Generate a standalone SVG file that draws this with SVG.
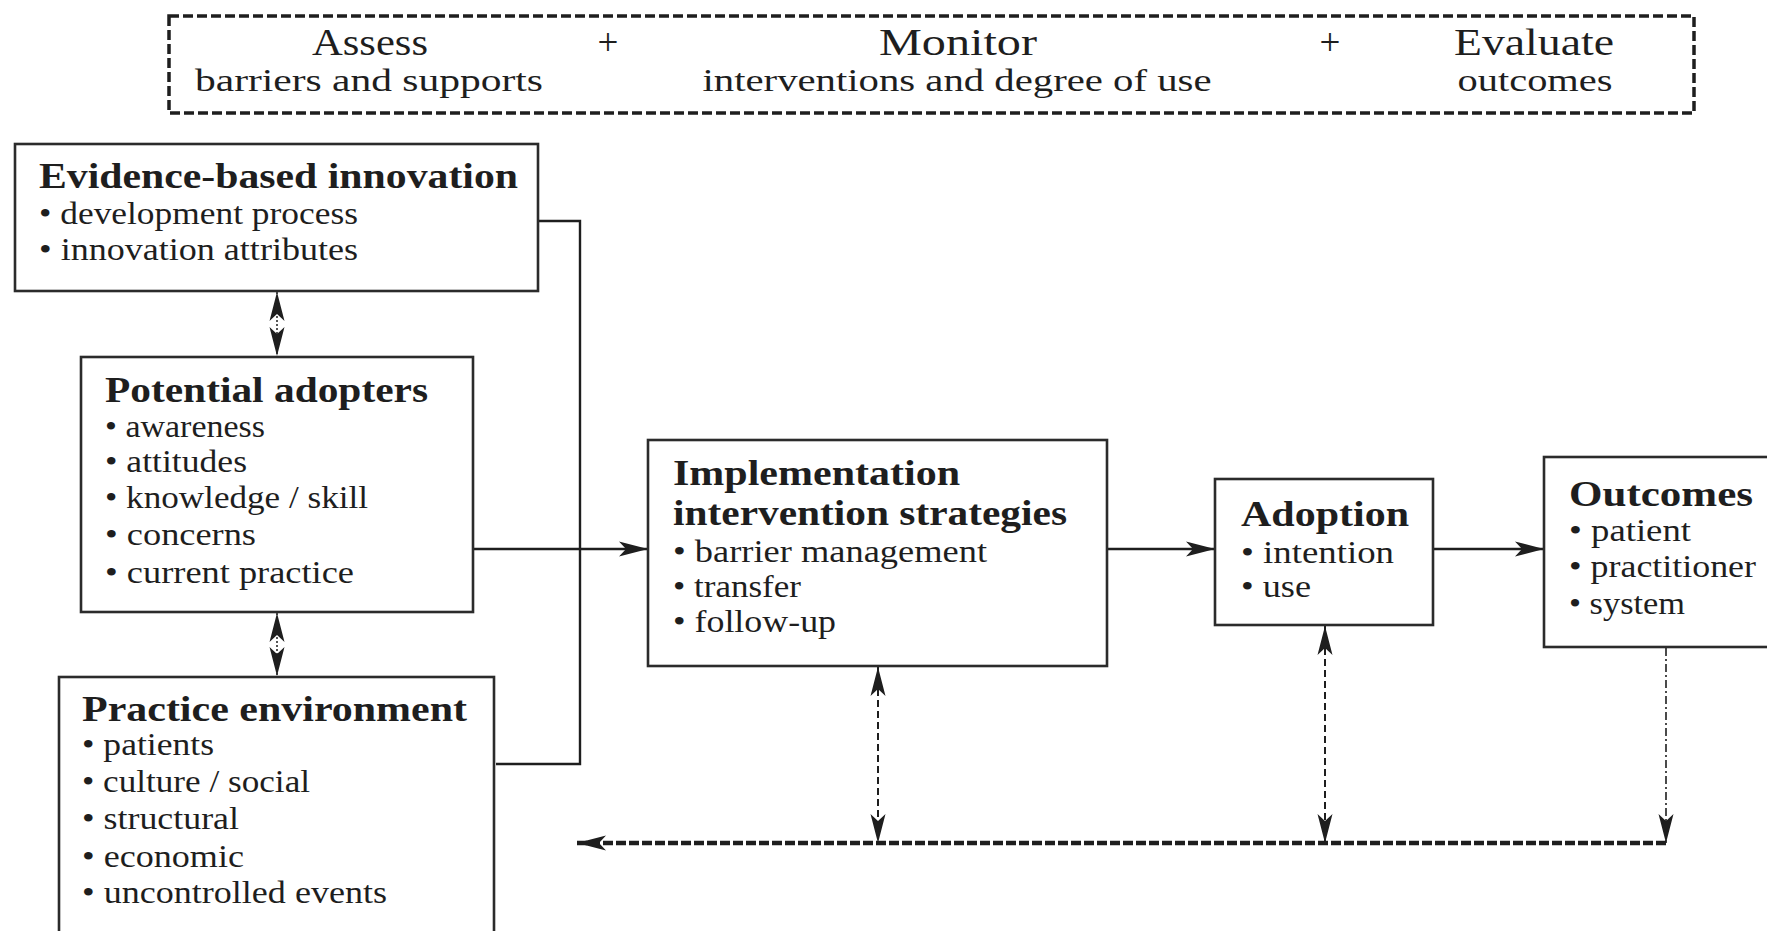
<svg xmlns="http://www.w3.org/2000/svg" width="1767" height="931" viewBox="0 0 1767 931">
<style>
.box{fill:#fff;stroke:#2b2b2b;stroke-width:2.6}
.t{font-family:"Liberation Serif","DejaVu Serif",serif;fill:#1e1e1e}
.title{font-size:36px;font-weight:bold}
.item{font-size:32px}
.hd{font-size:37px}
.sub{font-size:31px}
.ln{fill:none;stroke:#1e1e1e;stroke-width:2.4}
.dash{fill:none;stroke:#1e1e1e;stroke-width:2;stroke-dasharray:7 4}
.dot{fill:none;stroke:#1e1e1e;stroke-width:1.5;stroke-dasharray:2 2}
.dashdot{fill:none;stroke:#1e1e1e;stroke-width:1.6;stroke-dasharray:8 3 2 3}
.thick{fill:none;stroke:#1e1e1e;stroke-width:4.5;stroke-dasharray:10 3}
</style>
<defs>
<marker id="ah" markerUnits="userSpaceOnUse" markerWidth="32" markerHeight="18" refX="29" refY="9" orient="auto-start-reverse">
<path d="M0,1.5 L29,9 L0,16.5 L7,9 z" fill="#1e1e1e"/>
</marker>
</defs>

<g id="header">
<rect x="169" y="16" width="1525" height="97" fill="none" stroke="#1e1e1e" stroke-width="3.5" stroke-dasharray="10 4"/>
<text class="t hd" x="370" y="55" text-anchor="middle" textLength="116" lengthAdjust="spacingAndGlyphs">Assess</text>
<text class="t sub" x="369" y="91" text-anchor="middle" textLength="348" lengthAdjust="spacingAndGlyphs">barriers and supports</text>
<text class="t hd" x="608" y="55" text-anchor="middle">+</text>
<text class="t hd" x="958" y="55" text-anchor="middle" textLength="158" lengthAdjust="spacingAndGlyphs">Monitor</text>
<text class="t sub" x="957" y="91" text-anchor="middle" textLength="509" lengthAdjust="spacingAndGlyphs">interventions and degree of use</text>
<text class="t hd" x="1330" y="55" text-anchor="middle">+</text>
<text class="t hd" x="1534" y="55" text-anchor="middle" textLength="160" lengthAdjust="spacingAndGlyphs">Evaluate</text>
<text class="t sub" x="1535" y="91" text-anchor="middle" textLength="155" lengthAdjust="spacingAndGlyphs">outcomes</text>
</g>

<g id="connectors">
<polyline class="ln" points="538,221 580,221 580,764 496,764" stroke-width="3"/>
<line class="ln" x1="473" y1="549" x2="648" y2="549" marker-end="url(#ah)"/>
<line class="ln" x1="1107" y1="549" x2="1215" y2="549" marker-end="url(#ah)"/>
<line class="ln" x1="1433" y1="549" x2="1544" y2="549" marker-end="url(#ah)"/>
<line class="dot" x1="277" y1="292" x2="277" y2="356" marker-start="url(#ah)" marker-end="url(#ah)"/>
<line class="dot" x1="277" y1="613" x2="277" y2="676" marker-start="url(#ah)" marker-end="url(#ah)"/>
<line class="dash" x1="878" y1="667" x2="878" y2="843" marker-start="url(#ah)" marker-end="url(#ah)"/>
<line class="dash" x1="1325" y1="626" x2="1325" y2="843" marker-start="url(#ah)" marker-end="url(#ah)"/>
<line class="dashdot" x1="1666" y1="648" x2="1666" y2="843" marker-end="url(#ah)"/>
<line class="thick" x1="1666" y1="843" x2="577" y2="843" marker-end="url(#ah)"/>
</g>

<g id="evidence">
<rect class="box" x="15" y="144" width="523" height="147"/>
<text class="t title" x="39" y="188" textLength="479" lengthAdjust="spacingAndGlyphs">Evidence-based innovation</text>
<text class="t item" x="39" y="224" textLength="319" lengthAdjust="spacingAndGlyphs">• development process</text>
<text class="t item" x="39" y="260" textLength="319" lengthAdjust="spacingAndGlyphs">• innovation attributes</text>
</g>

<g id="potential-adopters">
<rect class="box" x="81" y="357" width="392" height="255"/>
<text class="t title" x="105" y="402" textLength="323" lengthAdjust="spacingAndGlyphs">Potential adopters</text>
<text class="t item" x="105" y="437" textLength="160" lengthAdjust="spacingAndGlyphs">• awareness</text>
<text class="t item" x="105" y="472" textLength="142" lengthAdjust="spacingAndGlyphs">• attitudes</text>
<text class="t item" x="105" y="508" textLength="263" lengthAdjust="spacingAndGlyphs">• knowledge / skill</text>
<text class="t item" x="105" y="545" textLength="151" lengthAdjust="spacingAndGlyphs">• concerns</text>
<text class="t item" x="105" y="583" textLength="249" lengthAdjust="spacingAndGlyphs">• current practice</text>
</g>

<g id="practice-environment">
<rect class="box" x="59" y="677" width="435" height="270" stroke-width="3"/>
<text class="t title" x="82" y="721" textLength="385" lengthAdjust="spacingAndGlyphs">Practice environment</text>
<text class="t item" x="82" y="755" textLength="132" lengthAdjust="spacingAndGlyphs">• patients</text>
<text class="t item" x="82" y="792" textLength="228" lengthAdjust="spacingAndGlyphs">• culture / social</text>
<text class="t item" x="82" y="829" textLength="157" lengthAdjust="spacingAndGlyphs">• structural</text>
<text class="t item" x="82" y="867" textLength="162" lengthAdjust="spacingAndGlyphs">• economic</text>
<text class="t item" x="82" y="903" textLength="305" lengthAdjust="spacingAndGlyphs">• uncontrolled events</text>
</g>

<g id="implementation">
<rect class="box" x="648" y="440" width="459" height="226" stroke-width="3"/>
<text class="t title" x="673" y="485" textLength="287" lengthAdjust="spacingAndGlyphs">Implementation</text>
<text class="t title" x="673" y="525" textLength="394" lengthAdjust="spacingAndGlyphs">intervention strategies</text>
<text class="t item" x="673" y="562" textLength="314" lengthAdjust="spacingAndGlyphs">• barrier management</text>
<text class="t item" x="673" y="597" textLength="128" lengthAdjust="spacingAndGlyphs">• transfer</text>
<text class="t item" x="673" y="632" textLength="163" lengthAdjust="spacingAndGlyphs">• follow-up</text>
</g>

<g id="adoption">
<rect class="box" x="1215" y="479" width="218" height="146"/>
<text class="t title" x="1241" y="526" textLength="168" lengthAdjust="spacingAndGlyphs">Adoption</text>
<text class="t item" x="1241" y="563" textLength="153" lengthAdjust="spacingAndGlyphs">• intention</text>
<text class="t item" x="1241" y="597" textLength="70" lengthAdjust="spacingAndGlyphs">• use</text>
</g>

<g id="outcomes">
<rect class="box" x="1544" y="457" width="260" height="190" stroke-width="2.2"/>
<text class="t title" x="1569" y="506" textLength="184" lengthAdjust="spacingAndGlyphs">Outcomes</text>
<text class="t item" x="1569" y="541" textLength="122" lengthAdjust="spacingAndGlyphs">• patient</text>
<text class="t item" x="1569" y="577" textLength="187" lengthAdjust="spacingAndGlyphs">• practitioner</text>
<text class="t item" x="1569" y="614" textLength="116" lengthAdjust="spacingAndGlyphs">• system</text>
</g>
</svg>
